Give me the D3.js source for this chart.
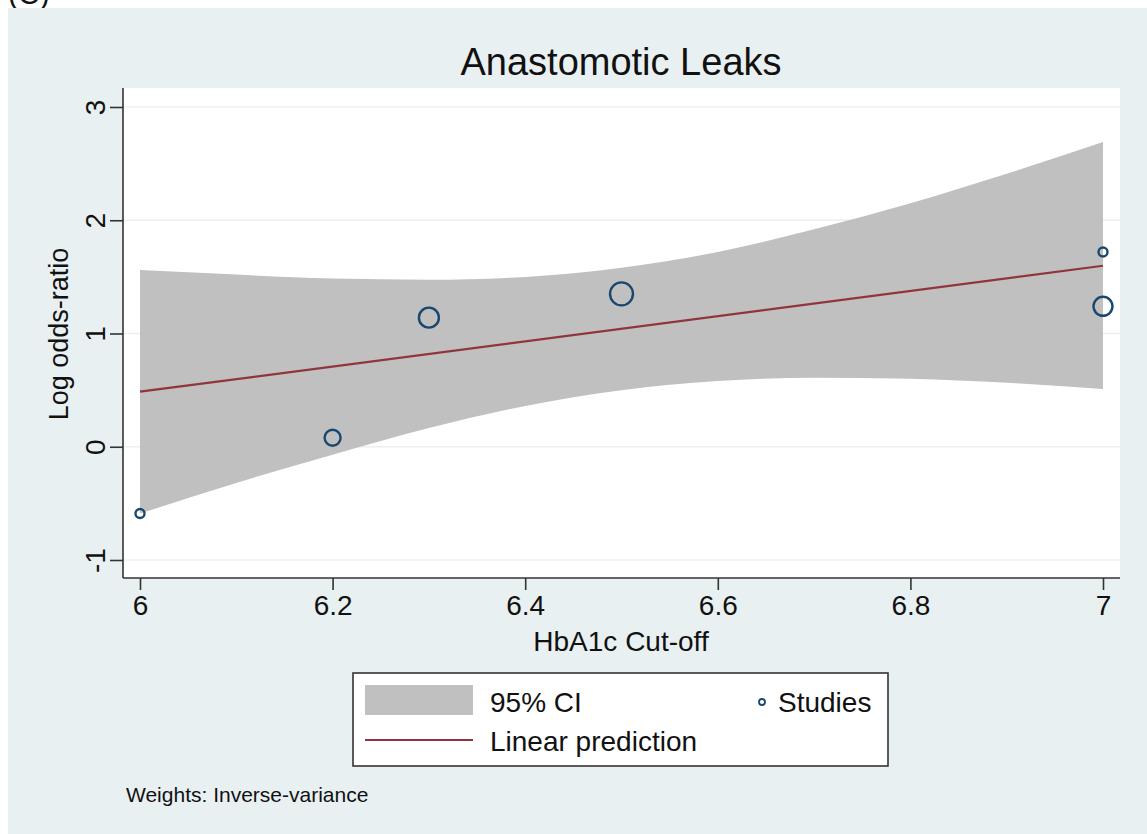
<!DOCTYPE html>
<html>
<head>
<meta charset="utf-8">
<script src="https://cdnjs.cloudflare.com/ajax/libs/d3/7.8.5/d3.min.js"></script>
<style>
  html, body { margin: 0; padding: 0; background: #ffffff; }
  svg { display: block; font-family: "Liberation Sans", Arial, Helvetica, sans-serif; }
</style>
</head>
<body>
<div id="chart"></div>
<script>
// studies (x = HbA1c cut-off, y = log odds-ratio, r = marker radius from weight)
const studyX = [6.0, 6.2, 6.3, 6.5, 7.0, 7.0];
const studyY = [-0.59, 0.08, 1.14, 1.35, 1.72, 1.24];
const studyW = [4.5, 8, 10, 11.5, 4.5, 9.5];

// linear prediction end points
const predX = [6.0, 7.0];
const predY = [0.486, 1.598];

// 95% CI band read along the x axis
const ciX = [6.0, 6.1, 6.2, 6.3, 6.4, 6.5, 6.6, 6.7, 6.8, 6.9, 7.0];
const ciHi = [1.56, 1.52, 1.485, 1.475, 1.50, 1.58, 1.72, 1.92, 2.15, 2.41, 2.69];
const ciLo = [-0.59, -0.32, -0.07, 0.165, 0.36, 0.50, 0.58, 0.61, 0.60, 0.565, 0.51];

const xTicks = [6, 6.2, 6.4, 6.6, 6.8, 7];
const yTicks = [-1, 0, 1, 2, 3];

const W = 1147, H = 834;
const plot = { left: 123, right: 1120, top: 88, bottom: 578 };

const svg = d3.select('#chart').append('svg')
	.attr('width', W)
	.attr('height', H);

// the panel label of the source figure, cut off at the top
svg.append('text')
	.attr('x', 8)
	.attr('y', 4)
	.attr('font-size', 30)
	.attr('fill', '#111')
	.text('(C)');

// graph region
svg.append('rect')
	.attr('x', 8).attr('y', 8)
	.attr('width', W - 8).attr('height', H - 8)
	.attr('fill', '#e9f0f2');

// plot region
svg.append('rect')
	.attr('x', plot.left).attr('y', plot.top)
	.attr('width', plot.right - plot.left).attr('height', plot.bottom - plot.top)
	.attr('fill', '#ffffff');

const x = d3.scaleLinear()
	.domain([6, 7])
	.range([140, 1103]);

const y = d3.scaleLinear()
	.domain([-1, 3])
	.range([560, 107]);

// grid lines
svg.append('g')
	.selectAll('line')
	.data(yTicks)
	.join('line')
	.attr('x1', plot.left).attr('x2', plot.right)
	.attr('y1', d => y(d)).attr('y2', d => y(d))
	.attr('stroke', '#eaf0f2')
	.attr('stroke-width', 1.5);

// CI band
const band = d3.area()
	.x((d, i) => x(ciX[i]))
	.y0((d, i) => y(ciLo[i]))
	.y1((d, i) => y(ciHi[i]))
	.curve(d3.curveMonotoneX);

svg.append('path')
	.attr('d', band(ciX))
	.attr('fill', '#c0c0c0');

// linear prediction
const line = d3.line()
	.x((d, i) => x(predX[i]))
	.y((d, i) => y(predY[i]));

svg.append('path')
	.attr('d', line(predX))
	.attr('fill', 'none')
	.attr('stroke', '#90353b')
	.attr('stroke-width', 2.2);

// studies
svg.append('g')
	.selectAll('circle')
	.data(studyX)
	.join('circle')
	.attr('cx', (d, i) => x(studyX[i]))
	.attr('cy', (d, i) => y(studyY[i]))
	.attr('r', (d, i) => studyW[i])
	.attr('fill', 'none')
	.attr('stroke', '#1a476f')
	.attr('stroke-width', 2.4);

// plain hyphen minus, like the original
const fmt = d => String(d);

// x axis
const gX = svg.append('g')
	.attr('transform', 'translate(0,' + plot.bottom + ')')
	.call(d3.axisBottom(x).tickValues(xTicks).tickFormat(fmt).tickSize(12).tickPadding(5));
gX.select('.domain').attr('d', 'M' + plot.left + ',0H' + plot.right);
gX.selectAll('path, line').attr('stroke', '#333').attr('stroke-width', 1.6);
gX.selectAll('text')
	.attr('font-size', 28)
	.attr('font-family', '"Liberation Sans", Arial, sans-serif')
	.attr('fill', '#111');

// y axis
const gY = svg.append('g')
	.attr('transform', 'translate(' + plot.left + ',0)')
	.call(d3.axisLeft(y).tickValues(yTicks).tickFormat(fmt).tickSize(13));
gY.select('.domain').attr('d', 'M0,' + plot.top + 'V' + plot.bottom);
gY.selectAll('path, line').attr('stroke', '#333').attr('stroke-width', 1.6);
gY.selectAll('text')
	.attr('font-size', 28)
	.attr('font-family', '"Liberation Sans", Arial, sans-serif')
	.attr('fill', '#111')
	.attr('text-anchor', 'middle')
	.attr('dy', null)
	.attr('x', null)
	.attr('transform', 'translate(-28,0) rotate(-90)')
	.attr('dominant-baseline', 'central');

// titles
svg.append('text')
	.attr('x', 621).attr('y', 75)
	.attr('text-anchor', 'middle')
	.attr('font-size', 38)
	.attr('fill', '#111')
	.text('Anastomotic Leaks');

svg.append('text')
	.attr('x', 621).attr('y', 651)
	.attr('text-anchor', 'middle')
	.attr('font-size', 28)
	.attr('fill', '#111')
	.text('HbA1c Cut-off');

svg.append('text')
	.attr('transform', 'translate(68,334) rotate(-90)')
	.attr('text-anchor', 'middle')
	.attr('font-size', 27)
	.attr('fill', '#111')
	.text('Log odds-ratio');

// legend
const lg = svg.append('g');
lg.append('rect')
	.attr('x', 353).attr('y', 673)
	.attr('width', 535).attr('height', 93)
	.attr('fill', '#ffffff')
	.attr('stroke', '#333')
	.attr('stroke-width', 1.6);
lg.append('rect')
	.attr('x', 365).attr('y', 685)
	.attr('width', 108).attr('height', 30)
	.attr('fill', '#c0c0c0');
lg.append('line')
	.attr('x1', 365).attr('x2', 473)
	.attr('y1', 740).attr('y2', 740)
	.attr('stroke', '#90353b')
	.attr('stroke-width', 2.2);
lg.append('circle')
	.attr('cx', 762).attr('cy', 702).attr('r', 3)
	.attr('fill', 'none')
	.attr('stroke', '#1a476f')
	.attr('stroke-width', 1.8);
lg.append('text')
	.attr('x', 490).attr('y', 712)
	.attr('font-size', 28).attr('fill', '#111')
	.text('95% CI');
lg.append('text')
	.attr('x', 778).attr('y', 712)
	.attr('font-size', 28).attr('fill', '#111')
	.text('Studies');
lg.append('text')
	.attr('x', 490).attr('y', 751)
	.attr('font-size', 28).attr('fill', '#111')
	.text('Linear prediction');

svg.append('text')
	.attr('x', 126).attr('y', 802)
	.attr('font-size', 21)
	.attr('fill', '#111')
	.text('Weights: Inverse-variance');
</script>
</body>
</html>
